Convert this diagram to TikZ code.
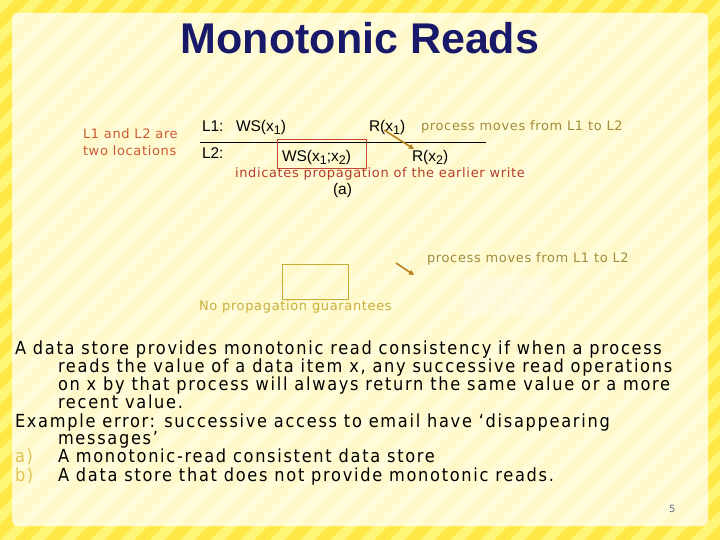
\documentclass[tikz,border=0pt]{standalone}
\usepackage{fontspec}
\setmainfont{DejaVu Sans Condensed}[LetterSpace=9.5]
\newfontfamily\arialfont{Liberation Sans}
\newfontfamily\verdfont{DejaVu Sans}[LetterSpace=5]
\usetikzlibrary{arrows.meta}
\definecolor{bgdark}{RGB}{255,232,70}
\definecolor{bglight}{RGB}{255,246,120}
\definecolor{titlecol}{RGB}{25,25,105}
\definecolor{loccol}{RGB}{205,90,50}
\definecolor{movecol}{RGB}{160,140,60}
\definecolor{propcol}{RGB}{180,62,46}
\definecolor{boxred}{RGB}{195,70,50}
\definecolor{nopcol}{RGB}{200,175,60}
\definecolor{boxol}{RGB}{200,172,50}
\definecolor{arrcol}{RGB}{185,130,35}
\definecolor{labcol}{RGB}{225,195,80}
\definecolor{pgcol}{RGB}{110,110,130}
\newcommand{\sbs}[1]{\raisebox{-2.5pt}{\fontsize{12.5}{13}\selectfont #1}}
\begin{document}
\begin{tikzpicture}[x=1pt,y=-1pt,
  every node/.style={inner sep=0pt,outer sep=0pt},
  diag/.style={font=\arialfont\fontsize{15.5}{17}\selectfont,anchor=base west},
  small/.style={font=\verdfont\fontsize{13}{15}\selectfont,anchor=base west},
  body/.style={font=\fontsize{18}{18}\selectfont,anchor=base west},
  arr/.style={-{Triangle[length=5pt,width=5pt]},line width=1.6pt,arrcol}]
\useasboundingbox (0,0) rectangle (720,540);
% background
\fill[bgdark] (0,0) rectangle (720,540);
\begin{scope}
\clip (0,0) rectangle (720,540);
\foreach \i in {-30,...,30}{
  \fill[bglight] ({\i*30},540) -- ({\i*30+14},540) -- ({\i*30+14+540},0) -- ({\i*30+540},0) -- cycle;
}
\end{scope}
\fill[white,opacity=0.72,rounded corners=6pt] (12,13) rectangle (708,526);
\fill[white,opacity=0.25] (463,277) rectangle (552,316);
% title
\node[font=\arialfont\bfseries\fontsize{43}{46}\selectfont,text=titlecol,anchor=base] (title) at (360,54) {Monotonic Reads};
% left note
\node[small,text=loccol] (loc1) at (83,138.5) {L1 and L2 are};
\node[small,text=loccol] (loc2) at (83,155.5) {two locations};
% diagram (a)
\node[diag] (l1) at (202,132) {L1:};
\node[diag] (wsx1) at (236,132) {WS(x\sbs{1})};
\node[diag] (rx1) at (369,132) {R(x\sbs{1})};
\node[small,text=movecol] (movea) at (421,131) {process moves from L1 to L2};
\coordinate (lineL) at (200,142);
\coordinate (lineR) at (486,142);
\draw[line width=0.8pt] (lineL) -- (lineR);
\node[diag] (l2) at (202,159) {L2:};
\node[diag] (ws) at (282,162) {WS(x\sbs{1};x\sbs{2})};
\node[draw=boxred,line width=0.8pt,minimum width=89pt,minimum height=29pt,anchor=north west] (boxa) at (277,139) {};
\node[diag] (rx2) at (412,162) {R(x\sbs{2})};
\coordinate (a1) at (384,130);
\coordinate (a2) at (414,149);
\draw[arr] (a1) -- (a2);
\node[small,text=propcol] (prop) at (235,178) {indicates propagation of the earlier write};
\node[diag] (capa) at (333,195) {(a)};
% diagram (b)
\node[small,text=movecol] (moveb) at (427,262.5) {process moves from L1 to L2};
\node[draw=boxol,line width=0.8pt,minimum width=66pt,minimum height=35pt,anchor=north west] (boxb) at (282,264) {};
\coordinate (b1) at (396,263);
\coordinate (b2) at (414,275);
\draw[arr] (b1) -- (b2);
\node[small,text=nopcol] (nop) at (199,310.5) {No propagation guarantees};
% body text
\node[body] (t1) at (15,354) {A data store provides monotonic read consistency if when a process};
\node[body] (t2) at (58,372) {reads the value of a data item x, any successive read operations};
\node[body] (t3) at (58,390) {on x by that process will always return the same value or a more};
\node[body] (t4) at (58,408) {recent value.};
\node[body] (t5) at (15,427) {Example error: successive access to email have `disappearing};
\node[body] (t6) at (58,444) {messages'};
\node[body,text=labcol] (la) at (15,462) {a)};
\node[body] (t7) at (58,462) {A monotonic-read consistent data store};
\node[body,text=labcol] (lb) at (15,481) {b)};
\node[body] (t8) at (58,481) {A data store that does not provide monotonic reads.};
\node[font=\verdfont\fontsize{10}{12}\selectfont,text=pgcol,anchor=base west] (pg) at (669,512) {5};
\end{tikzpicture}
\end{document}
